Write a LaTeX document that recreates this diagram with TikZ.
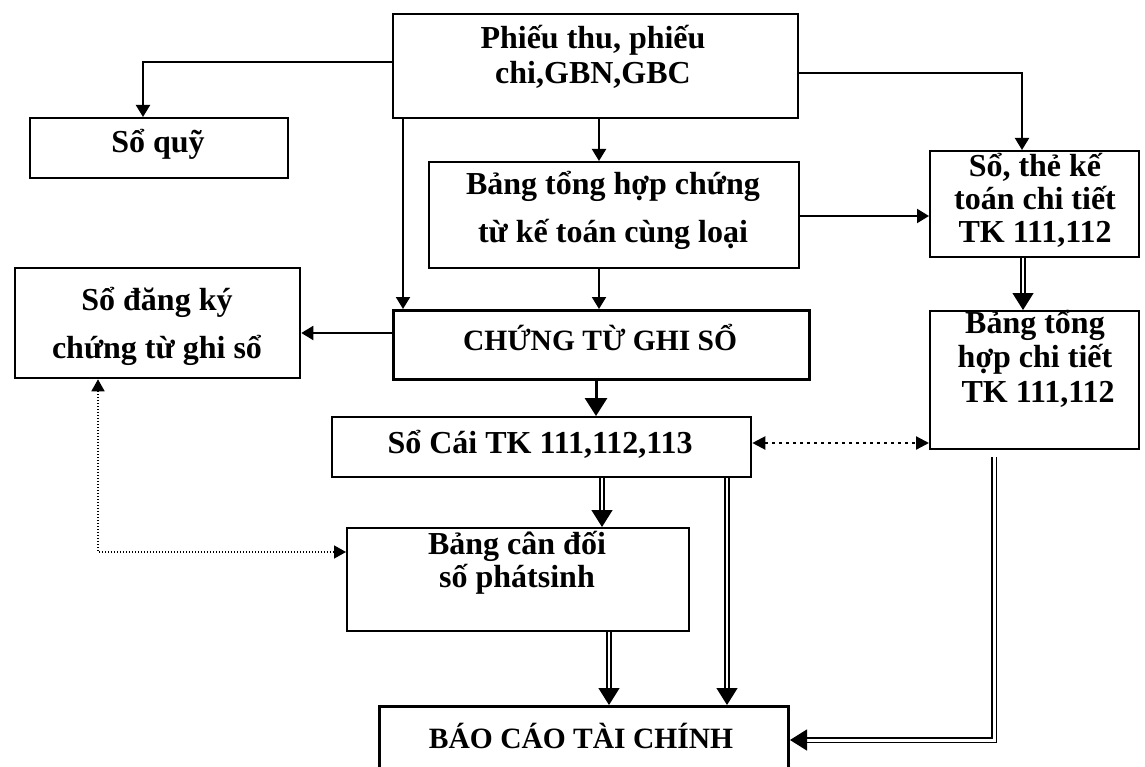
\documentclass[tikz,border=0pt]{standalone}
\usepackage{fontspec}
\setmainfont{Liberation Serif}
\usetikzlibrary{arrows.meta,calc}

\begin{document}
\begin{tikzpicture}[x=1pt,y=-1pt,
  box/.style={draw, line width=2.3pt, inner sep=0pt, anchor=north west},
  heavybox/.style={box, line width=3pt},
  % multi-line labels: the base anchor sits on the last line
  lbl/.style={anchor=base, align=center, inner sep=0pt,
    font=\bfseries\fontsize{32}{#1}\selectfont},
  lbl/.default=35,
  caplbl/.style={anchor=base, align=center, inner sep=0pt,
    font=\bfseries\fontsize{29.5}{33}\selectfont},
  arr/.style={line width=2pt, -{Triangle[length=12pt,width=14pt]}},
  heavyarr/.style={line width=3pt, -{Triangle[length=18pt,width=22pt]}},
  dblarr/.style={line width=1.4pt, double, double distance=2.6pt,
    -{Triangle[length=17pt,width=21pt]}},
  dashedarr/.style={line width=2.2pt, dash pattern=on 3.5pt off 3.5pt,
    {Triangle[length=13pt,width=13pt]}-{Triangle[length=13pt,width=13pt]}},
  dottedarr/.style={line width=1.7pt, dash pattern=on 1.5pt off 1.5pt,
    {Triangle[length=12pt,width=13pt]}-{Triangle[length=12pt,width=13pt]}},
]
\useasboundingbox (0,0) rectangle (1145,767);

% boxes
\node[box, minimum width=405pt, minimum height=104pt] (phieu) at (392,13) {};
\node[box, minimum width=258pt, minimum height=60pt]  (soquy) at (29,117) {};
\node[box, minimum width=370pt, minimum height=106pt] (bth)   at (428,161) {};
\node[box, minimum width=209pt, minimum height=106pt] (sothe) at (929,150) {};
\node[box, minimum width=285pt, minimum height=110pt] (sodk)  at (14,267) {};
\node[heavybox, minimum width=416pt, minimum height=69pt] (ctgs) at (392,309) {};
\node[box, minimum width=209pt, minimum height=138pt] (bthct) at (929,310) {};
\node[box, minimum width=419pt, minimum height=60pt]  (socai) at (331,416) {};
\node[box, minimum width=342pt, minimum height=103pt] (bcd)   at (346,527) {};
\node[heavybox, minimum width=409pt, minimum height=75pt] (bctc) at (378,705) {};

% texts
\node[lbl] (t-phieu) at (593,84)  {Phiếu thu, phiếu\\chi,GBN,GBC};
\node[lbl] (t-soquy) at (158,153) {Sổ quỹ};
\node[lbl=48] (t-bth) at (613,243) {Bảng tổng hợp chứng\\từ kế toán cùng loại};
\node[lbl=33] (t-sothe) at (1035,243) {Sổ, thẻ kế\\toán chi tiết\\TK 111,112};
\node[lbl=48] (t-sodk) at (157,358) {Sổ đăng ký\\chứng từ ghi sổ};
\node[caplbl] (t-ctgs) at (600,350) {CHỨNG TỪ GHI SỔ};
\node[lbl=34.5] (t-bthct) at (1035,402) {Bảng tổng\\hợp chi tiết\\\hspace*{6pt}TK 111,112};
\node[lbl] (t-socai) at (540,453) {Sổ Cái TK 111,112,113};
\node[lbl=33] (t-bcd) at (517,587) {Bảng cân đối\\số phátsinh};
\node[caplbl] (t-bctc) at (581,748) {BÁO CÁO TÀI CHÍNH};

% connectors
\draw[arr] ($(phieu.north west)+(0,49)$) -| ($(soquy.north west)+(114,0)$);
\draw[arr] ($(phieu.south west)+(11,0)$) coordinate (a1) -- (a1 |- ctgs.north);
\draw[arr] ($(phieu.south west)+(207,0)$) coordinate (a2) -- (a2 |- bth.north);
\draw[arr] ($(phieu.north east)+(0,60)$) -| ($(sothe.north west)+(93,0)$);
\draw[arr] ($(bth.north east)+(0,55)$) coordinate (a3) -- (a3 -| sothe.west);
\draw[arr] (a2 |- bth.south) -- (a2 |- ctgs.north);
\draw[arr] ($(ctgs.north west)+(0,24)$) coordinate (a4) -- (a4 -| sodk.east);
\draw[heavyarr] ($(ctgs.south west)+(204,0)$) coordinate (a5) -- (a5 |- socai.north);
\draw[dblarr] ($(sothe.south west)+(94,0)$) coordinate (a6) -- (a6 |- bthct.north);
\draw[dashedarr] ($(socai.north east)+(0,27)$) coordinate (a7) -- (a7 -| bthct.west);
\draw[dblarr] ($(socai.south west)+(271,0)$) coordinate (a8) -- (a8 |- bcd.north);
\draw[dblarr] ($(socai.south west)+(396,0)$) coordinate (a9) -- (a9 |- bctc.north);
\draw[dblarr] ($(bcd.south west)+(263,0)$) coordinate (a10) -- (a10 |- bctc.north);
\draw[dblarr, line width=1.4pt, double distance=3pt]
  ($(bthct.south west)+(65,7)$) |- ($(bctc.north east)+(0,35)$);
\draw[dottedarr] ($(sodk.south west)+(84,0)$) |- ($(bcd.north west)+(0,25)$);
\end{tikzpicture}
\end{document}
